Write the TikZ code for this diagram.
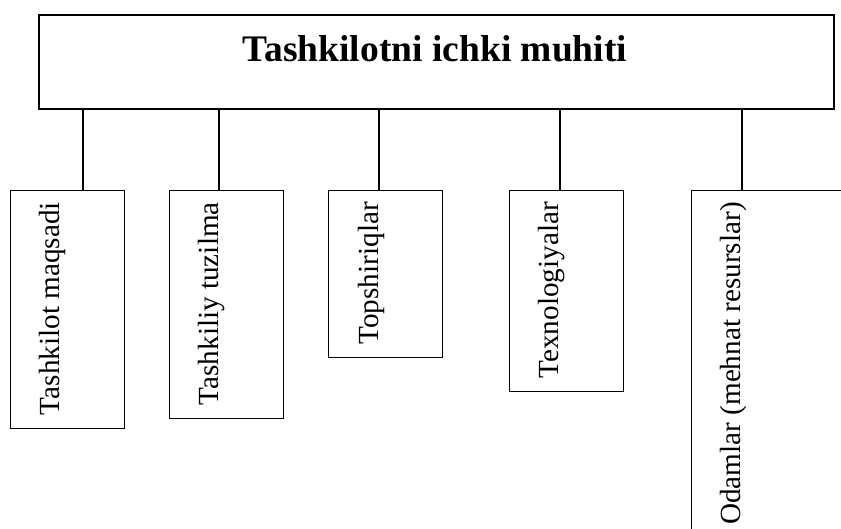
\documentclass[tikz,border=0pt]{standalone}
\usepackage{fontspec}
\setmainfont{Liberation Serif}
\begin{document}
\begin{tikzpicture}[x=1pt,y=-1pt,
  headbox/.style={draw, line width=2pt, anchor=north west, inner sep=0pt,
    minimum width=795.5pt, minimum height=94pt},
  itembox/.style={draw, line width=1.3pt, anchor=north west, inner sep=0pt,
    minimum width=114pt},
  itemtext/.style={rotate=90, anchor=base east, inner sep=0pt,
    font=\fontsize{29.2}{34}\selectfont},
  link/.style={line width=1.3pt}]
\useasboundingbox (0,0) rectangle (841,528);
\clip (0,0) rectangle (841,528);

% main box
\node[headbox] (top) at (37.5,14) {};
\node[anchor=base, inner sep=0pt, font=\bfseries\fontsize{37.5}{40}\selectfont]
  (title) at (435,61) {Tashkilotni ichki muhiti};

% item boxes
\node[itembox, minimum height=238pt] (b1) at (10,190) {};
\node[itembox, minimum height=228pt] (b2) at (169,190) {};
\node[itembox, minimum height=167pt] (b3) at (328,190) {};
\node[itembox, minimum height=201pt] (b4) at (509,190) {};
\node[itembox, minimum height=400pt, minimum width=200pt] (b5) at (691,190) {};

% rotated labels
\node[itemtext] (t1) at (59,202) {Tashkilot maqsadi};
\node[itemtext] (t2) at (218,202) {Tashkiliy tuzilma};
\node[itemtext] (t3) at (378,202) {Topshiriqlar};
\node[itemtext] (t4) at (558,202) {Texnologiyalar};
\node[itemtext] (t5) at (740,202) {Odamlar (mehnat resurslar)};

% connector attachment points
\coordinate (c1) at (83,190);
\coordinate (c2) at (219,190);
\coordinate (c3) at (379,190);
\coordinate (c4) at (560,190);
\coordinate (c5) at (742,190);

\foreach \i in {1,...,5}
  \draw[link] (top.south -| c\i) -- (c\i);
\end{tikzpicture}
\end{document}
